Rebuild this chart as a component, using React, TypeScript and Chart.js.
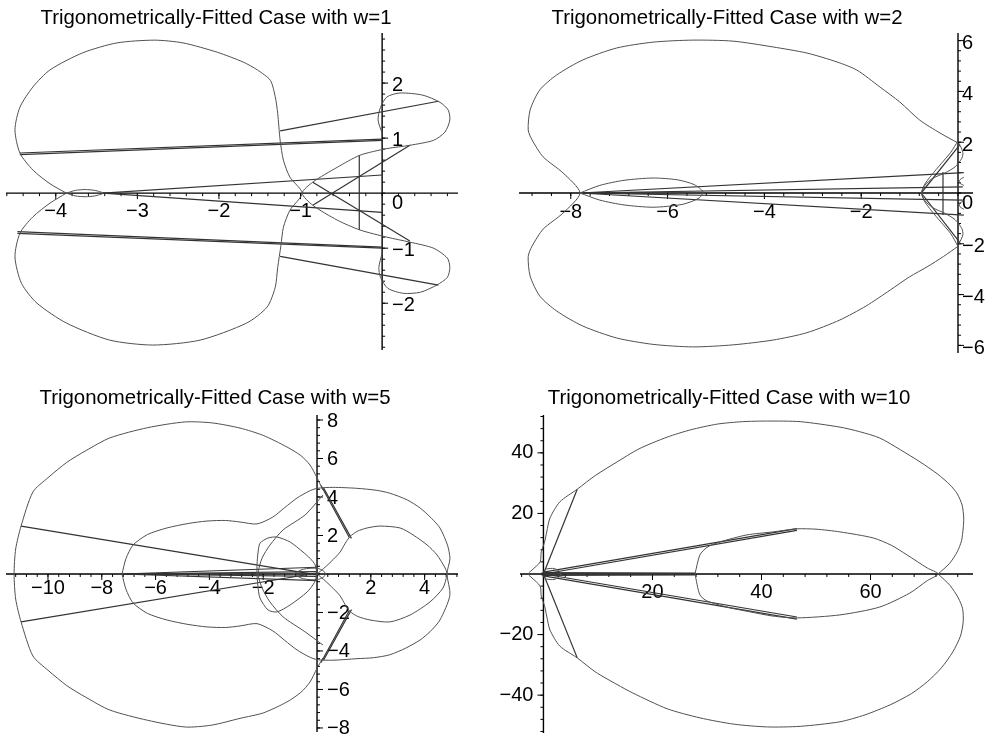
import React, { useEffect, useRef } from 'react';
import { Chart, registerables } from 'chart.js';

Chart.register(...registerables);

type Pt = [number, number];

// ================= w = 1 =================
const W1_TITLE = 'Trigonometrically-Fitted Case with w=1';
const W1_X_LABELS = [-4, -3, -2, -1];
const W1_Y_LABELS = [2, 1, 0, -1, -2];
const W1_PEANUT: Pt[] = [
  [-3.87, 0], [-4.07, 0.17], [-4.28, 0.42], [-4.44, 0.73], [-4.5, 1.15], [-4.44, 1.56], [-4.28, 1.93],
  [-4.07, 2.24], [-3.67, 2.55], [-3.25, 2.73], [-2.79, 2.78], [-2.44, 2.73], [-2.02, 2.56], [-1.7, 2.38],
  [-1.53, 2.24], [-1.37, 2.05], [-1.31, 1.75], [-1.28, 1.45], [-1.25, 0.96], [-1.21, 0.6], [-1.13, 0.29],
  [-0.98, 0], [-1.13, -0.31], [-1.21, -0.62], [-1.24, -0.95], [-1.28, -1.35], [-1.31, -1.71], [-1.41, -2.07],
  [-1.66, -2.36], [-2.23, -2.67], [-2.81, -2.76], [-3.34, -2.67], [-3.87, -2.36], [-4.23, -2.0],
  [-4.42, -1.64], [-4.5, -1.16], [-4.44, -0.73], [-4.28, -0.43], [-4.07, -0.18], [-3.87, 0],
];
const W1_CUSP_LOOP: Pt[] = [
  [-3.87, 0], [-3.76, 0.05], [-3.64, 0.065], [-3.52, 0.05], [-3.42, 0], [-3.52, -0.05], [-3.64, -0.065],
  [-3.76, -0.05], [-3.87, 0],
];
const W1_LOBES: Pt[] = [
  [0, 1.09], [-0.05, 1.33], [-0.02, 1.56], [0.06, 1.75], [0.22, 1.82], [0.5, 1.78], [0.71, 1.65], [0.81, 1.51],
  [0.83, 1.33], [0.77, 1.11], [0.63, 0.96], [0.34, 0.87], [0.06, 0.81], [-0.27, 0.69], [-0.55, 0.47],
  [-0.85, 0.2], [-0.98, 0], [-0.85, -0.22], [-0.55, -0.49], [-0.27, -0.67], [0.06, -0.8], [0.34, -0.89],
  [0.63, -1.0], [0.8, -1.18], [0.83, -1.35], [0.8, -1.53], [0.67, -1.67], [0.47, -1.8], [0.26, -1.82],
  [0.07, -1.73], [-0.02, -1.53], [-0.04, -1.35], [0, -1.09],
];
const W1_CHORDS: Pt[][] = [
  [[-4.44, 0.73], [0, 0.98]],
  [[-4.44, 0.7], [0, 0.96]],
  [[-1.25, 1.13], [0.69, 1.67]],
  [[-3.42, 0], [0, 0.33]],
  [[-3.42, 0], [0, -0.35]],
  [[-4.47, -0.73], [0, -1.0]],
  [[-4.47, -0.7], [0, -0.98]],
  [[-1.25, -1.15], [0.69, -1.67]],
  [[-0.85, 0.2], [0.34, -0.87]],
  [[-0.85, -0.22], [0.34, 0.87]],
  [[-0.28, 0.69], [-0.28, -0.67]],
];

// ================= w = 2 =================
const W2_TITLE = 'Trigonometrically-Fitted Case with w=2';
const W2_X_LABELS = [-8, -6, -4, -2];
const W2_Y_LABELS = [6, 4, 2, 0, -2, -4, -6];
const W2_OUTER: Pt[] = [
  [0, 1.97], [-0.37, 2.36], [-0.79, 2.87], [-1.2, 3.58], [-1.61, 4.17], [-2.09, 4.84], [-2.5, 5.16],
  [-3.12, 5.51], [-3.82, 5.75], [-4.65, 5.98], [-5.48, 6.02], [-6.3, 5.94], [-7.05, 5.71], [-7.75, 5.24],
  [-8.29, 4.65], [-8.64, 4.06], [-8.84, 3.27], [-8.88, 2.48], [-8.8, 2.09], [-8.57, 1.42], [-8.16, 0.79],
  [-7.81, 0], [-8.16, -0.79], [-8.57, -1.42], [-8.8, -2.09], [-8.88, -2.5], [-8.84, -3.27], [-8.64, -4.06],
  [-8.29, -4.65], [-7.75, -5.24], [-7.05, -5.71], [-6.3, -5.96], [-5.48, -6.06], [-4.65, -5.98],
  [-3.82, -5.79], [-3.12, -5.5], [-2.44, -5.0], [-1.9, -4.45], [-1.4, -3.82], [-1.0, -3.3], [-0.64, -2.91],
  [-0.3, -2.5], [0, -2.1],
];
const W2_TEARDROP: Pt[] = [
  [-7.81, 0], [-7.4, 0.3], [-6.9, 0.5], [-6.3, 0.59], [-5.8, 0.52], [-5.45, 0.33], [-5.27, 0.05],
  [-5.35, -0.2], [-5.7, -0.45], [-6.3, -0.56], [-6.9, -0.47], [-7.4, -0.28], [-7.81, 0],
];
const W2_WAVE_A: Pt[] = [
  [0.02, 1.96], [0.1, 1.61], [0.08, 1.37], [-0.06, 1.03], [-0.27, 0.79], [-0.52, 0.58], [-0.68, 0.31],
  [-0.76, 0], [-0.68, -0.31], [-0.52, -0.58], [-0.27, -0.8], [-0.06, -1.05], [0.08, -1.4], [0.1, -1.65],
  [0.02, -2.0],
];
const W2_WAVE_B: Pt[] = [
  [0, 2.05], [-0.15, 1.6], [-0.35, 1.15], [-0.55, 0.7], [-0.7, 0.3], [-0.74, 0], [-0.7, -0.3],
  [-0.55, -0.7], [-0.35, -1.15], [-0.15, -1.6], [0, -2.1],
];
const W2_CUP_UP: Pt[] = [[0.12, 0.62], [0.04, 0.52], [0.03, 0.4], [0.12, 0.3]];
const W2_CUP_DN: Pt[] = [[0.12, -0.3], [0.03, -0.42], [0.04, -0.54], [0.12, -0.64]];
const W2_CHORDS: Pt[][] = [
  [[-7.81, 0], [0.12, 0.8]],
  [[-7.81, 0], [0.1, 0.24]],
  [[-7.81, 0], [0.1, -0.28]],
  [[-7.81, 0], [0.12, -0.87]],
  [[-0.31, 0.83], [-0.31, -0.87]],
  [[0.04, 1.9], [-0.76, 0]],
  [[-0.76, 0], [0.04, -1.95]],
];

// ================= w = 5 =================
const W5_TITLE = 'Trigonometrically-Fitted Case with w=5';
const W5_X_LABELS = [-10, -8, -6, -4, -2, 2, 4];
const W5_Y_LABELS = [8, 6, 4, 2, -2, -4, -6, -8];
const W5_OUTER: Pt[] = [
  [0.22, 4.36], [0, 5.0], [-0.26, 5.66], [-0.6, 6.15], [-1.12, 6.6], [-2.0, 7.2], [-2.86, 7.58],
  [-3.9, 7.85], [-4.9, 7.9], [-6.3, 7.6], [-7.7, 7.07], [-8.6, 6.4], [-9.3, 5.8], [-10.0, 5.0],
  [-10.56, 4.26], [-11.0, 2.49], [-11.2, 1.3], [-11.26, 0], [-11.2, -1.3], [-11.0, -2.49], [-10.56, -4.26],
  [-10.0, -5.0], [-9.3, -5.8], [-8.6, -6.4], [-7.7, -7.07], [-6.3, -7.6], [-4.9, -7.95], [-3.9, -7.85],
  [-2.86, -7.5], [-2.0, -7.22], [-1.12, -6.65], [-0.6, -6.15], [-0.26, -5.61], [0, -4.9], [0.22, -4.36],
];
const W5_INNER: Pt[] = [
  [-7.25, 0], [-7.1, 0.8], [-6.84, 1.5], [-6.3, 2.05], [-5.58, 2.39], [-4.8, 2.62], [-4.09, 2.75],
  [-3.4, 2.78], [-2.86, 2.7], [-2.23, 2.6], [-1.64, 2.96], [-1.2, 3.45], [-0.74, 3.95], [-0.3, 4.3],
  [0, 4.45], [0.6, 4.5], [1.49, 4.45], [2.2, 4.35], [2.7, 4.2], [3.35, 3.85], [3.83, 3.43], [4.25, 2.9],
  [4.57, 2.39], [4.85, 1.5], [4.94, 0.8], [4.83, 0], [4.94, -1.1], [4.57, -2.39], [4.2, -3.0],
  [3.83, -3.43], [3.3, -3.85], [2.7, -4.2], [2.1, -4.35], [1.49, -4.4], [0.6, -4.48], [0, -4.45],
  [-0.3, -4.3], [-0.74, -3.95], [-1.2, -3.45], [-1.64, -2.96], [-2.23, -2.58], [-2.86, -2.7],
  [-3.4, -2.78], [-4.09, -2.75], [-4.8, -2.62], [-5.58, -2.39], [-6.3, -2.05], [-6.84, -1.5],
  [-7.1, -0.8], [-7.25, 0],
];
const W5_HEART: Pt[] = [
  [0, 0], [0.3, 0.35], [0.6, 0.75], [0.86, 1.14], [1.05, 1.6], [1.23, 1.95], [1.5, 2.22], [1.86, 2.39],
  [2.34, 2.49], [3.09, 2.39], [3.57, 2.03], [4.09, 1.51], [4.46, 0.99], [4.76, 0.31], [4.83, 0],
  [4.68, -0.73], [4.2, -1.45], [3.46, -2.13], [2.71, -2.49], [1.97, -2.39], [1.5, -2.2], [1.23, -1.95],
  [1.05, -1.6], [0.86, -1.14], [0.6, -0.75], [0.3, -0.35], [0, 0],
];
const W5_SMALL_LOBE: Pt[] = [
  [0, 0], [-0.07, 0.47], [-0.25, 0.8], [-0.52, 1.14], [-1.0, 1.66], [-1.49, 1.92], [-1.82, 1.87],
  [-2.12, 1.6], [-2.19, 1.14], [-2.23, 0.5], [-2.23, 0], [-2.2, -0.6], [-2.12, -1.25], [-1.82, -1.87],
  [-1.49, -1.97], [-1.0, -1.61], [-0.37, -0.94], [-0.1, -0.45], [0, 0],
];
const W5_ARC: Pt[] = [
  [0.22, 4.1], [-0.45, 3.06], [-1.26, 2.29], [-1.75, 1.5], [-2.04, 0.83], [-2.19, 0], [-2.04, -0.73],
  [-1.75, -1.45], [-1.26, -2.23], [-0.45, -3.0], [0.22, -3.69],
];
const W5_ORIGIN_LOOP: Pt[] = [
  [-0.9, 0], [-0.5, 0.25], [0, 0.3], [0.25, 0.15], [0.3, 0], [0.25, -0.15], [0, -0.3], [-0.5, -0.25], [-0.9, 0],
];
const W5_CHORDS: Pt[][] = [
  [[0.15, 4.6], [1.2, 1.9]],
  [[0.24, 4.48], [1.28, 1.85]],
  [[0.15, -4.6], [1.2, -1.9]],
  [[0.24, -4.48], [1.28, -1.85]],
  [[-11.0, 2.49], [0, -0.05]],
  [[-11.0, -2.49], [0, 0.05]],
  [[-7.25, 0], [0, 0.35]],
  [[-7.25, 0], [0, -0.35]],
  [[-7.25, 0], [0, 0.12]],
  [[-7.25, 0], [0, -0.12]],
];

// ================= w = 10 =================
const W10_TITLE = 'Trigonometrically-Fitted Case with w=10';
const W10_X_LABELS = [20, 40, 60];
const W10_Y_LABELS = [40, 20, -20, -40];
const W10_OUTER: Pt[] = [
  [72.4, 0], [74.5, 3.5], [75.9, 7.3], [76.7, 11], [77, 15.2], [77.1, 18.5], [76.8, 22.8], [75.9, 26.5],
  [74.6, 29.4], [72.3, 33], [69.1, 37], [65.5, 41], [61.7, 44.9], [58, 47], [54.4, 48.5], [47.1, 50.3],
  [41.1, 50.5], [36.5, 50.3], [31.9, 49.5], [27, 47.6], [22.7, 45.2], [17.5, 41.3], [13.5, 37], [9.5, 32.5],
  [6.2, 28], [3.0, 23.8], [1.2, 18.5], [0.6, 13.9], [0.2, 10.5], [-0.4, 7.3], [-0.6, 4.0], [-2.1, 1.3],
  [-2.8, 0], [-2.1, -1.3], [-0.6, -4.0], [-0.4, -7.3], [0.2, -10.5], [0.6, -13.9], [1.2, -18.5],
  [3.0, -23.8], [6.2, -27.7], [9.5, -32.3], [13.5, -36.5], [16.4, -39.3], [22.7, -44.5], [28.7, -47.5],
  [35, -49.6], [41.1, -50.5], [47.1, -50.3], [54.4, -48.8], [59, -46.5], [63.6, -43.2], [67.5, -39.5],
  [70.4, -35.6], [73, -31], [75.1, -25.7], [76.5, -20.5], [77, -15.8], [76.9, -11.5], [76.1, -7.9],
  [74.6, -3.8], [72.4, 0],
];
const W10_INNER: Pt[] = [
  [27.8, 0], [28.7, 6.3], [30, 8.8], [32.4, 10.6], [37.3, 12.9], [42.1, 13.9], [46.5, 14.9], [50, 14.8],
  [54.4, 13.9], [60.5, 11.9], [63.8, 9.5], [66.7, 6.3], [70.4, 2], [72.4, 0], [70.4, -2.2], [67.2, -6.3],
  [61.7, -10.9], [54.4, -13.5], [46.5, -14.5], [42.1, -13.9], [37.9, -12.5], [33.6, -10.9], [30, -8.9],
  [28.7, -6.9], [27.8, 0],
];
const W10_KNOT: Pt[] = [
  [-0.5, 0], [0.5, 1.6], [2, 1.8], [3, 0.8], [3.2, 0], [3, -0.8], [2, -1.8], [0.5, -1.6], [-0.5, 0],
];
const W10_CHORDS: Pt[][] = [
  [[0, 0], [6.2, 28]],
  [[0, 0], [6.2, -27.7]],
  [[0, 0.6], [46.5, 15]],
  [[0, 0], [46.5, 14.4]],
  [[0, -0.6], [46.5, -14.9]],
  [[0, 0], [46.5, -14.2]],
  [[0, 0.5], [27.8, 0.3]],
  [[0, -0.5], [27.8, -0.3]],
  [[0, 0], [27.8, 0]],
];

// ================= rendering =================
const FONT = '20px "Liberation Sans", Arial, Helvetica, sans-serif';
const TITLE_FONT = '20.4px "Liberation Sans", Arial, Helvetica, sans-serif';
const CURVE_COLOR = '#505050';
const CHORD_COLOR = '#333333';

const fmt = (v: number) => (v < 0 ? '\u2212' + Math.abs(v) : String(v));

type PanelCfg = {
  left: number; top: number; w: number; h: number;
  pad: { left: number; top: number; right: number; bottom: number };
  xMin: number; xMax: number; yMin: number; yMax: number;
  curves: Pt[][]; chords: Pt[][];
  title: string; titleX: number; titleY: number;
  xLabels: number[]; yLabels: number[];
  xStep: number; yStep: number;
  xLabelDy: number; yLabelDx: number; yLabelDy: number; zeroDy: number; ySide: number;
};

function makeAxesPlugin(o: PanelCfg) {
  return {
    id: 'mapleAxes',
    beforeDatasetsDraw(chart: any) {
      const { ctx, chartArea: a } = chart;
      const xs = chart.scales.x;
      const ys = chart.scales.y;
      const X0 = xs.getPixelForValue(0);
      const Y0 = ys.getPixelForValue(0);
      const seg = (x1: number, y1: number, x2: number, y2: number) => {
        ctx.beginPath(); ctx.moveTo(x1, y1); ctx.lineTo(x2, y2); ctx.stroke();
      };
      const steps = (min: number, max: number, step: number) => {
        const out: number[] = [];
        for (let k = Math.ceil(min / step - 1e-9); k * step <= max + 1e-9; k++) out.push(k * step);
        return out;
      };
      ctx.save();
      ctx.strokeStyle = '#000';
      ctx.lineWidth = 1.4;
      seg(a.left, Y0, a.right, Y0);
      seg(X0, a.top, X0, a.bottom);
      ctx.lineWidth = 1;
      for (const v of steps(xs.min, xs.max, o.xStep)) { const p = xs.getPixelForValue(v); seg(p, Y0, p, Y0 + 3); }
      for (const v of o.xLabels) { const p = xs.getPixelForValue(v); seg(p, Y0, p, Y0 + 6); }
      const s = o.ySide;
      for (const v of steps(ys.min, ys.max, o.yStep)) { const p = ys.getPixelForValue(v); seg(X0, p, X0 + s * 3, p); }
      for (const v of o.yLabels) { if (v === 0) continue; const p = ys.getPixelForValue(v); seg(X0, p, X0 + s * 6, p); }
      ctx.fillStyle = '#000';
      ctx.font = FONT;
      ctx.textAlign = 'center';
      ctx.textBaseline = 'alphabetic';
      for (const v of o.xLabels) ctx.fillText(fmt(v), xs.getPixelForValue(v), Y0 + o.xLabelDy);
      ctx.textAlign = s > 0 ? 'left' : 'right';
      ctx.textBaseline = 'middle';
      for (const v of o.yLabels) {
        ctx.fillText(fmt(v), X0 + s * o.yLabelDx, ys.getPixelForValue(v) + (v === 0 ? o.zeroDy : o.yLabelDy));
      }
      ctx.font = TITLE_FONT;
      ctx.textAlign = 'center';
      ctx.textBaseline = 'alphabetic';
      ctx.fillText(o.title, o.titleX, o.titleY);
      ctx.restore();
    },
  };
}

const toXY = (pts: Pt[]) => pts.map(([x, y]) => ({ x, y }));

const PANELS: PanelCfg[] = [
  {
    left: 0, top: 0, w: 497, h: 365, pad: { left: 6, top: 33, right: 39, bottom: 15 },
    xMin: -4.61, xMax: 0.93, yMin: -2.85, yMax: 2.91,
    curves: [W1_PEANUT, W1_CUSP_LOOP, W1_LOBES], chords: W1_CHORDS,
    title: W1_TITLE, titleX: 216, titleY: 24, xLabels: W1_X_LABELS, yLabels: W1_Y_LABELS,
    xStep: 0.2, yStep: 0.2, xLabelDy: 24, yLabelDx: 10, yLabelDy: 2, zeroDy: 10, ySide: 1,
  },
  {
    left: 497, top: 0, w: 497, h: 365, pad: { left: 22, top: 33, right: 21, bottom: 12 },
    xMin: -9.07, xMax: 0.31, yMin: -6.3, yMax: 6.3,
    curves: [W2_OUTER, W2_TEARDROP, W2_WAVE_A, W2_WAVE_B, W2_CUP_UP, W2_CUP_DN], chords: W2_CHORDS,
    title: W2_TITLE, titleX: 230, titleY: 24, xLabels: W2_X_LABELS, yLabels: W2_Y_LABELS,
    xStep: 0.4, yStep: 0.4, xLabelDy: 25, yLabelDx: 4, yLabelDy: 3, zeroDy: 10, ySide: 1,
  },
  {
    left: 0, top: 365, w: 497, h: 376, pad: { left: 6, top: 50, right: 39, bottom: 9 },
    xMin: -11.56, xMax: 5.24, yMin: -8.21, yMax: 8.26,
    curves: [W5_OUTER, W5_INNER, W5_HEART, W5_SMALL_LOBE, W5_ARC, W5_ORIGIN_LOOP], chords: W5_CHORDS,
    title: W5_TITLE, titleX: 215, titleY: 39, xLabels: W5_X_LABELS, yLabels: W5_Y_LABELS,
    xStep: 0.4, yStep: 0.4, xLabelDy: 20, yLabelDx: 10, yLabelDy: 1, zeroDy: 10, ySide: 1,
  },
  {
    left: 497, top: 365, w: 497, h: 376, pad: { left: 23, top: 50, right: 21, bottom: 8 },
    xMin: -4.3, xMax: 78.8, yMin: -52.5, yMax: 52.5,
    curves: [W10_OUTER, W10_INNER, W10_KNOT], chords: W10_CHORDS,
    title: W10_TITLE, titleX: 232, titleY: 39, xLabels: W10_X_LABELS, yLabels: W10_Y_LABELS,
    xStep: 4, yStep: 4, xLabelDy: 24, yLabelDx: 10, yLabelDy: 0, zeroDy: 0, ySide: -1,
  },
];

function Panel({ cfg }: { cfg: PanelCfg }) {
  const ref = useRef<HTMLCanvasElement | null>(null);
  useEffect(() => {
    if (!ref.current) return;
    const datasets: any[] = [
      ...cfg.curves.map((c) => ({
        data: toXY(c), showLine: true, pointRadius: 0, borderColor: CURVE_COLOR, borderWidth: 1,
        tension: 0.25, fill: false,
      })),
      ...cfg.chords.map((c) => ({
        data: toXY(c), showLine: true, pointRadius: 0, borderColor: CHORD_COLOR, borderWidth: 1.2,
        tension: 0, fill: false,
      })),
    ];
    const chart = new Chart(ref.current, {
      type: 'scatter',
      data: { datasets },
      options: {
        animation: false,
        responsive: false,
        maintainAspectRatio: false,
        devicePixelRatio: 1,
        layout: { padding: cfg.pad },
        plugins: { legend: { display: false }, tooltip: { enabled: false }, title: { display: false } },
        events: [],
        scales: {
          x: { type: 'linear', min: cfg.xMin, max: cfg.xMax, display: false },
          y: { type: 'linear', min: cfg.yMin, max: cfg.yMax, display: false },
        },
      },
      plugins: [makeAxesPlugin(cfg)],
    } as any);
    return () => chart.destroy();
  }, [cfg]);
  return (
    <canvas
      ref={ref}
      width={cfg.w}
      height={cfg.h}
      style={{ position: 'absolute', left: cfg.left, top: cfg.top, width: cfg.w, height: cfg.h }}
    />
  );
}

export default function App() {
  return (
    <div style={{ position: 'fixed', left: 0, top: 0, width: 994, height: 741, background: '#fff' }}>
      {PANELS.map((p, i) => (
        <Panel key={i} cfg={p} />
      ))}
    </div>
  );
}
